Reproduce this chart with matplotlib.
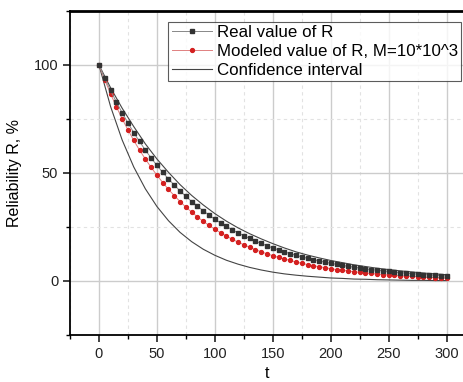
import matplotlib.pyplot as plt
from matplotlib.ticker import MultipleLocator

plt.rcParams['font.family'] = ['Liberation Sans', 'DejaVu Sans']

# t step 5
t = list(range(0, 305, 5))
real_R = [100, 93.9, 88.2, 82.9, 77.9, 73.2, 68.7, 64.6, 60.6, 57.0,
          53.5, 50.3, 47.2, 44.4, 41.7, 39.2, 36.8, 34.6, 32.5, 30.5,
          28.6, 26.9, 25.3, 23.7, 22.3, 21.0, 19.7, 18.5, 17.4, 16.3,
          15.3, 14.4, 13.5, 12.7, 11.9, 11.2, 10.5, 9.9, 9.3, 8.7,
          8.2, 7.7, 7.2, 6.8, 6.4, 6.0, 5.6, 5.3, 5.0, 4.7,
          4.4, 4.1, 3.9, 3.6, 3.4, 3.2, 3.0, 2.8, 2.7, 2.5, 2.3]
model_R = [100, 93.1, 86.7, 80.7, 75.1, 70.0, 65.1, 60.6, 56.5, 52.6,
           49.0, 45.6, 42.4, 39.5, 36.8, 34.2, 31.9, 29.7, 27.6, 25.7,
           24.0, 22.3, 20.8, 19.3, 18.0, 16.8, 15.6, 14.5, 13.5, 12.6,
           11.7, 10.9, 10.2, 9.5, 8.8, 8.2, 7.6, 7.1, 6.6, 6.2,
           5.7, 5.3, 5.0, 4.6, 4.3, 4.0, 3.7, 3.5, 3.2, 3.0,
           2.8, 2.6, 2.4, 2.3, 2.1, 2.0, 1.8, 1.7, 1.6, 1.5, 1.4]

# confidence interval, step 10
t_ci = list(range(0, 310, 10))
ci_upper = [100, 89.5, 80.0, 71.5, 63.5, 56.5, 50.3, 44.6, 39.6, 35.2,
            31.2, 27.7, 24.6, 21.9, 19.5, 17.3, 15.3, 13.5, 12.0, 10.7,
            9.5, 8.5, 7.5, 6.7, 5.9, 5.3, 4.7, 4.2, 3.7, 3.3, 2.9]
ci_lower = [100, 80.8, 65.3, 52.8, 42.7, 34.5, 27.9, 22.5, 18.2, 14.7,
            11.9, 9.6, 7.8, 6.3, 5.1, 4.1, 3.3, 2.7, 2.2, 1.8,
            1.4, 1.2, 0.9, 0.8, 0.6, 0.5, 0.4, 0.3, 0.3, 0.2, 0.2]

fig = plt.figure(figsize=(4.64, 3.82), dpi=100)
ax = fig.add_axes([70/464, 47/382, 394/464, 324/382])

ax.plot(t, real_R, color='#888888', lw=0.7, marker='s', ms=2.6,
        mfc='#333333', mec='#333333', label='Real value of R', zorder=4)
ax.plot(t, model_R, color='#e08080', lw=0.7, marker='o', ms=2.8,
        mfc='#d42020', mec='#d42020',
        label='Modeled value of R, M=10*10^3', zorder=3)
ax.plot(t_ci, ci_upper, color='#444444', lw=0.8, label='Confidence interval', zorder=2)
ax.plot(t_ci, ci_lower, color='#444444', lw=0.8, zorder=2)

ax.set_xlim(-25, 315)
ax.set_ylim(-25, 125)
ax.xaxis.set_major_locator(MultipleLocator(50))
ax.xaxis.set_minor_locator(MultipleLocator(25))
ax.yaxis.set_major_locator(MultipleLocator(50))
ax.yaxis.set_minor_locator(MultipleLocator(25))
ax.grid(True, which='major', color='#cccccc', lw=1.0)
ax.grid(True, which='minor', color='#e2e2e2', lw=0.8, ls=(0, (3, 3)))
ax.set_axisbelow(True)

ax.spines['right'].set_visible(False)
ax.spines['top'].set_linewidth(2)
ax.spines['left'].set_linewidth(1.3)
ax.spines['bottom'].set_linewidth(1.3)
ax.tick_params(which='major', direction='out', length=5, width=1.2, labelsize=10.5, colors='#222222')
ax.tick_params(which='minor', direction='out', length=3, width=1)

ax.set_xlabel('t', fontsize=11.5, labelpad=4)
ax.set_ylabel('Reliability R, %', fontsize=11.5, labelpad=8)

leg = ax.legend(loc='upper right', bbox_to_anchor=(0.993, 0.967), fontsize=12.2,
                frameon=True, fancybox=False, edgecolor='#333333',
                borderpad=0.2, labelspacing=0.22, handlelength=2.4,
                handletextpad=0.25, borderaxespad=0)
leg.get_frame().set_linewidth(0.8)

fig.savefig('out.png', dpi=100)
